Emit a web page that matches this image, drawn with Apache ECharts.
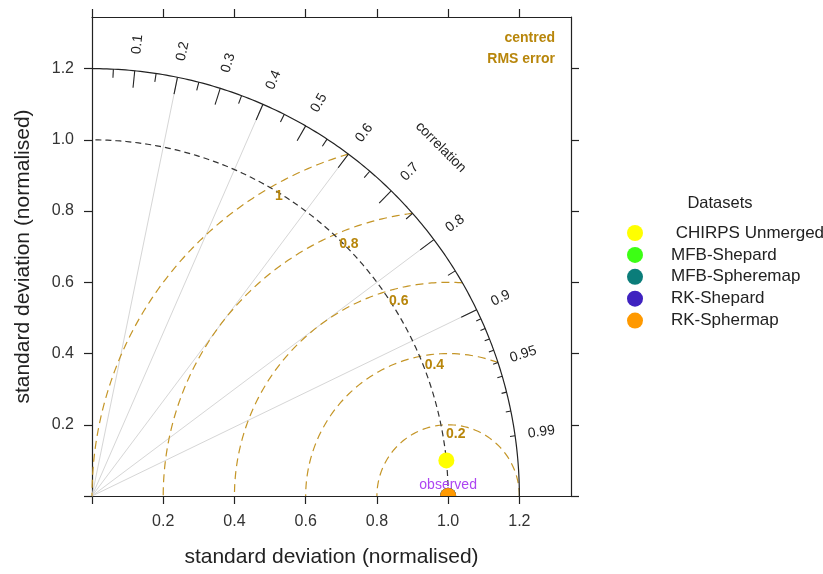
<!DOCTYPE html>
<html><head><meta charset="utf-8">
<script src="https://cdn.jsdelivr.net/npm/echarts@6/dist/echarts.min.js"></script>
<style>html,body{margin:0;padding:0;background:#fff}#c{width:823px;height:574px}</style>
</head><body><div id="c"></div><script>
// ---- data ----
const datasetNames = [' CHIRPS Unmerged', 'MFB-Shepard', 'MFB-Spheremap', 'RK-Shepard', 'RK-Sphermap'];
const datasetSd = [1.00, 1.00, 1.00, 1.00, 1.00];          // normalised standard deviation
const datasetCorr = [0.995, 1.0, 1.0, 1.0, 1.0];            // correlation with observed
const obsSd = 1.0;
const maxSd = 1.2;
const axisMax = 1.345;
const axisTickValues = [0, 0.2, 0.4, 0.6, 0.8, 1.0, 1.2];
const axisLabelValues = [0.2, 0.4, 0.6, 0.8, 1.0, 1.2];
const corrLines = [0.2, 0.4, 0.6, 0.8, 0.9];
const corrMajorTicks = [0.1, 0.2, 0.3, 0.4, 0.5, 0.6, 0.7, 0.8, 0.9];
const corrMinorTicks = [0.05, 0.15, 0.25, 0.35, 0.45, 0.55, 0.65, 0.75, 0.85];
const corrFineTicks = [0.91, 0.92, 0.93, 0.94, 0.95, 0.96, 0.97, 0.98, 0.99];
const corrLabels = [0.1, 0.2, 0.3, 0.4, 0.5, 0.6, 0.7, 0.8, 0.9, 0.95, 0.99];
const rmsLevels = [0.2, 0.4, 0.6, 0.8, 1];
const rmsLabelTexts = ['0.2', '0.4', '0.6', '0.8', '1'];

// ---- styles ----
const datasetColors = ['#ffff00', '#3cff14', '#0b7d7a', '#3f22c0', '#ff9900'];
const gold = '#b8860b';
const FONT = "'Liberation Sans', Arial, sans-serif";

// ---- helpers ----
function polar(r, c) { const a = Math.acos(c); return [r * Math.cos(a), r * Math.sin(a)]; }
function arcPoints(r) {
  const pts = [];
  for (let i = 0; i <= 180; i++) { const a = i / 180 * Math.PI / 2; pts.push([r * Math.cos(a), r * Math.sin(a)]); }
  return pts;
}
function rmsPoints(d) {
  let cmax = (maxSd * maxSd - obsSd * obsSd - d * d) / (2 * d * obsSd);
  const t0 = Math.acos(Math.max(-1, Math.min(1, cmax)));
  const pts = [];
  const n = 160;
  for (let i = 0; i <= n; i++) {
    const t = t0 + (Math.PI - t0) * i / n;
    const x = obsSd + d * Math.cos(t), y = d * Math.sin(t);
    if (x >= -1e-9) pts.push([x, y]);
  }
  return pts;
}
function segSeries(segs, color, width, z) {
  return {
    type: 'custom', coordinateSystem: 'cartesian2d', silent: true, z: z, clip: false,
    data: segs, encode: { x: [0, 2], y: [1, 3] },
    renderItem: function (p, api) {
      const a = api.coord([api.value(0), api.value(1)]);
      const b = api.coord([api.value(2), api.value(3)]);
      return { type: 'line', shape: { x1: a[0], y1: a[1], x2: b[0], y2: b[1] }, style: { stroke: color, lineWidth: width } };
    }
  };
}
function textSeries(pos, texts, opt, z) {
  return {
    type: 'custom', coordinateSystem: 'cartesian2d', silent: true, z: z, clip: false,
    data: pos, encode: { x: 0, y: 1 },
    renderItem: function (p, api) {
      const a = api.coord([api.value(0), api.value(1)]);
      const i = p.dataIndex;
      const rot = opt.rot ? opt.rot[i] : 0;
      return {
        type: 'text', x: a[0] + (opt.dx || 0), y: a[1] + (opt.dy || 0), rotation: rot * Math.PI / 180,
        style: { text: texts[i], fill: opt.color, font: opt.font, align: opt.align || 'center', verticalAlign: opt.vAlign || 'middle' }
      };
    }
  };
}
function lineSeries(pts, color, width, type, z) {
  return { type: 'line', data: pts, showSymbol: false, silent: true, z: z, clip: false, animation: false,
    lineStyle: { color: color, width: width, type: type } };
}

const series = [];
// correlation radial lines
series.push(segSeries(corrLines.map(c => [0, 0].concat(polar(maxSd, c))), '#d6d6d6', 1, 1));
// rms circles
rmsLevels.forEach(d => series.push(lineSeries(rmsPoints(d), '#c49526', 1.2, [8, 5], 2)));
// observed sd arc (dashed) and outer arc
series.push(lineSeries(arcPoints(obsSd), '#333', 1.2, [6, 4], 3));
series.push(lineSeries(arcPoints(maxSd), '#222', 1.2, 'solid', 3));
// ticks on outer arc
series.push(segSeries(corrMajorTicks.map(c => polar(maxSd, c).concat(polar(maxSd * 0.96, c))), '#222', 1.1, 4));
series.push(segSeries(corrMinorTicks.map(c => polar(maxSd, c).concat(polar(maxSd * 0.98, c))), '#222', 1.1, 4));
series.push(segSeries(corrFineTicks.map(c => polar(maxSd, c).concat(polar(maxSd * 0.988, c))), '#222', 1.1, 4));
// correlation labels
series.push(textSeries(corrLabels.map(c => polar(maxSd * 1.062, c)), corrLabels.map(String),
  { color: '#222', font: '14px ' + FONT, rot: corrLabels.map(c => Math.acos(c) * 180 / Math.PI) }, 5));
series.push(textSeries([polar(maxSd * 1.154, Math.SQRT1_2)], ['correlation'],
  { color: '#222', font: '14px ' + FONT, rot: [-45] }, 5));
// rms labels
series.push(textSeries(rmsLevels.map(d => { const x = obsSd - d * d / (2 * obsSd); return [x, Math.sqrt(obsSd * obsSd - x * x)]; }),
  rmsLabelTexts, { color: gold, font: 'bold 14px ' + FONT, align: 'left', vAlign: 'top', dx: 5, dy: 2 }, 5));
// observed label
series.push(textSeries([[obsSd, 0]], ['observed'], { color: '#ad45f2', font: '14px ' + FONT, dy: -11 }, 5));
// dataset points
datasetNames.forEach((n, i) => {
  series.push({
    type: 'custom', name: n, coordinateSystem: 'cartesian2d', z: 6, clip: true,
    itemStyle: { color: datasetColors[i] },
    data: [polar(datasetSd[i], datasetCorr[i])], encode: { x: 0, y: 1 },
    renderItem: function (p, api) {
      const a = api.coord([api.value(0), api.value(1)]);
      return { type: 'circle', shape: { cx: a[0], cy: a[1], r: 8 }, style: { fill: datasetColors[i] } };
    }
  });
});

function makeAxis(dir, pos, withLabel, name) {
  const ax = {
    type: 'value', min: 0, max: axisMax, position: pos, gridIndex: 0,
    axisLine: { show: true, onZero: false, lineStyle: { color: '#222', width: 1.2 } },
    axisTick: { show: true, inside: false, length: 8, customValues: axisTickValues, lineStyle: { color: '#222', width: 1.2 } },
    axisLabel: { show: withLabel, customValues: axisLabelValues, formatter: v => v.toFixed(1), fontSize: 16, color: '#333', margin: 18, fontFamily: FONT },
    splitLine: { show: false }
  };
  if (name) {
    ax.name = name; ax.nameLocation = 'middle';
    ax.nameTextStyle = { fontSize: 21, color: '#222', fontFamily: FONT };
    ax.nameGap = dir === 'x' ? 51 : 58;
  }
  return ax;
}

const chart = echarts.init(document.getElementById('c'), null, { renderer: 'canvas' });
chart.setOption({
  animation: false,
  backgroundColor: '#fff',
  textStyle: { fontFamily: FONT },
  grid: { left: 92, top: 17, width: 479, height: 479, containLabel: false },
  xAxis: [makeAxis('x', 'bottom', true, 'standard deviation (normalised)'), makeAxis('x', 'top', false)],
  yAxis: [makeAxis('y', 'left', true, 'standard deviation (normalised)'), makeAxis('y', 'right', false)],
  legend: {
    orient: 'vertical', left: 622, top: 219.5, itemWidth: 62, itemHeight: 16, itemGap: 4.9,
    selectedMode: false,
    data: datasetNames.map(n => ({ name: n, icon: 'circle' })),
    textStyle: { fontSize: 17, color: '#222', fontFamily: FONT, lineHeight: 16 }
  },
  graphic: [
    { type: 'text', x: 720, y: 203, style: { text: 'Datasets', fill: '#222', font: '16.5px ' + FONT, align: 'center', verticalAlign: 'middle' } },
    { type: 'text', x: 555, y: 38, style: { text: 'centred', fill: gold, font: 'bold 14px ' + FONT, align: 'right', verticalAlign: 'middle' } },
    { type: 'text', x: 555, y: 59, style: { text: 'RMS error', fill: gold, font: 'bold 14px ' + FONT, align: 'right', verticalAlign: 'middle' } }
  ],
  series: series
});
</script></body></html>
